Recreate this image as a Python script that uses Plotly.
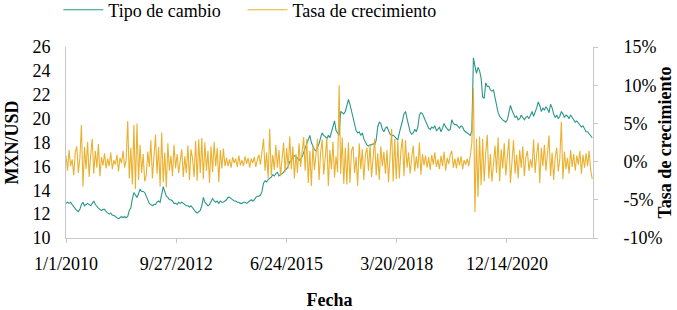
import pandas as pd
import plotly.graph_objects as go

# Biweekly observations starting 2010-01-01
start_date = "2010-01-01"

tipo_cambio = [
    # 2010
    12.9, 13.0, 12.9, 13.0, 12.8, 12.6, 12.4, 12.3, 12.2, 12.4, 12.8, 13.0, 12.7, 12.8, 12.9, 12.8, 12.7, 12.9, 13.1, 12.8, 12.6, 12.5, 12.4, 12.3, 12.4, 12.4,
    # 2011
    12.2, 12.1, 12.0, 12.1, 11.9, 11.9, 11.8, 11.7, 11.6, 11.7, 11.8, 11.7, 11.8, 11.7, 11.8, 12.3, 12.5, 13.3, 13.8, 13.6, 13.4, 13.7, 14.1, 13.9, 13.9, 13.8,
    # 2012
    13.5, 13.2, 12.9, 12.8, 12.7, 12.8, 12.8, 13.0, 13.1, 13.0, 13.6, 14.3, 13.9, 13.5, 13.4, 13.2, 13.2, 13.1, 12.9, 12.9, 12.8, 13.0, 12.9, 13.0, 12.9, 12.8,
    # 2013
    12.7, 12.7, 12.6, 12.7, 12.5, 12.3, 12.2, 12.1, 12.2, 12.3, 12.7, 13.4, 13.0, 12.8, 12.7, 12.8, 13.1, 13.3, 13.1, 13.0, 13.1, 12.9, 13.1, 13.0, 13.0, 13.1,
    # 2014
    13.2, 13.4, 13.4, 13.3, 13.2, 13.1, 13.1, 13.0, 13.0, 12.9, 12.9, 13.0, 13.0, 12.9, 13.0, 13.1, 13.2, 13.1, 13.2, 13.4, 13.5, 13.5, 13.6, 13.9, 14.6, 14.8,
    # 2015
    14.7, 14.9, 15.0, 15.1, 15.3, 15.2, 15.4, 15.5, 15.2, 15.3, 15.4, 15.5, 15.7, 15.8, 16.0, 16.4, 16.5, 16.8, 16.9, 16.8, 16.7, 16.5, 16.6, 16.8, 17.2, 17.4,
    # 2016
    18.0, 18.3, 18.6, 18.0, 17.6, 17.4, 17.3, 17.6, 17.9, 18.4, 18.8, 18.6, 18.5, 18.3, 18.6, 18.4, 18.9, 19.4, 19.8, 19.0, 18.8, 18.6, 20.6, 20.5, 20.4, 20.6,
    # 2017
    21.0, 21.6, 21.2, 20.6, 20.0, 19.5, 19.0, 18.8, 18.9, 18.6, 18.8, 18.3, 18.0, 17.8, 17.7, 17.8, 17.8, 17.9, 17.8, 18.2, 19.3, 19.7, 19.6, 19.1, 18.9, 19.2,
    # 2018
    19.3, 18.9, 18.7, 18.6, 18.6, 18.5, 18.3, 18.2, 18.8, 19.2, 19.8, 20.4, 20.6, 20.0, 19.4, 18.9, 18.7, 18.8, 19.1, 18.9, 19.3, 20.3, 20.5, 20.4, 20.1, 19.8,
    # 2019
    19.5, 19.2, 19.1, 19.3, 19.2, 19.4, 19.0, 19.1, 19.3, 18.9, 19.2, 19.6, 19.3, 19.1, 19.0, 19.1, 19.9, 19.6, 19.5, 19.5, 19.3, 19.2, 19.4, 19.3, 19.0, 18.9,
    # 2020
    18.8, 18.7, 18.6, 19.0, 25.1, 24.4, 23.8, 24.3, 24.0, 23.4, 21.8, 21.7, 23.0, 22.7, 22.7, 22.4, 22.3, 22.4, 21.7, 21.3, 20.5, 20.2, 20.0, 19.9, 19.8, 19.7,
    # 2021
    19.9, 20.6, 21.1, 20.7, 20.3, 20.1, 20.2, 19.9, 20.0, 20.3, 20.1, 19.9, 20.1, 20.2, 20.0, 20.4, 20.6, 20.2, 20.5, 20.9, 21.4, 21.1, 20.6, 20.9, 20.7, 21.0,
    # 2022
    20.8, 20.5, 21.2, 20.9, 20.4, 20.1, 20.3, 20.0, 20.2, 20.6, 20.4, 20.1, 20.3, 20.2, 20.0, 20.3, 20.1, 19.9, 19.7, 19.8, 19.6, 19.5, 19.3, 19.4, 19.1, 18.9,
    # 2023
    18.9, 18.7, 18.6, 18.4,
]

tasa_crecimiento = [
    # 2010
    0.8, -1.2, 1.5, -0.6, 0.3, -1.8, 1.2, 2.0, -1.5, 0.5, 4.8, -3.3, 1.9, -1.0, 2.6, -2.0, 0.9, 3.0, -1.6, 1.4, -0.8, 2.3, -1.9, 0.6, -0.5, 1.1,
    # 2011
    -0.9, 0.4, -0.6, 1.2, -1.0, 0.2, -0.4, 0.9, -1.3, 0.5, -0.2, 1.4, -0.8, 0.3, 5.3, -2.2, 1.8, -3.0, 4.8, -3.6, 5.0, -2.4, 2.2, -1.5, 1.0, -2.6,
    # 2012
    -1.8, 1.3, -0.7, 2.8, -2.2, 0.6, 3.5, -1.6, 1.9, -3.3, 3.8, -2.7, 1.2, -3.4, 2.4, -1.2, 0.8, -1.9, 2.2, -0.9, 1.0, -1.5, 0.4, 1.6, -2.0, 0.7,
    # 2013
    -1.5, 2.1, -2.4, 1.6, 0.4, -2.0, 2.7, -2.5, 2.9, -1.5, 3.1, -2.3, 2.5, -1.2, 1.4, -2.8, 2.0, -1.4, 2.6, -0.6, 1.8, -2.7, 1.5, -0.9, 1.7, -0.6,
    # 2014
    0.5, -0.6, 0.3, -0.8, 0.6, -0.2, 0.4, -0.7, 0.8, -0.5, 0.2, -0.6, 0.7, -0.3, 0.5, -0.8, 0.4, -0.2, 0.6, -0.7, 0.3, 0.9, -0.4, 1.8, 3.0, -1.2,
    # 2015
    1.2, -2.2, 4.3, -1.8, 0.9, -1.1, 2.2, -0.8, 1.5, -1.9, 0.6, 2.5, -1.4, 1.8, -0.9, 3.3, -1.0, 2.0, -2.2, 1.0, -1.5, 2.4, -0.7, 1.4, 3.2, -1.2,
    # 2016
    3.0, -2.8, 1.4, -3.2, 2.1, -1.1, 0.8, 3.0, -2.4, 1.2, 2.9, -1.7, 0.6, 3.1, -3.2, 1.5, -1.0, 2.6, -2.1, 0.7, -1.4, 10.0, -1.6, 3.2, -2.9, 1.8,
    # 2017
    -3.0, 2.5, -2.8, 1.4, 2.0, -1.5, 0.6, -3.2, 2.4, -1.0, 1.6, -2.4, 0.9, 1.8, -1.2, 2.2, -2.0, 0.5, 3.0, -1.8, 1.1, -2.4, 2.0, -0.6, 1.3, -1.6,
    # 2018
    1.5, -2.7, 0.8, 4.3, -2.6, 3.0, -2.3, 2.7, -2.2, 1.4, 3.0, -1.9, 2.8, -0.8, 1.2, -1.6, 0.5, 2.1, -1.3, 0.7, -0.9, 2.5, -1.7, 1.0, -0.5, 0.8,
    # 2019
    -0.8, 0.6, -1.1, 0.9, -0.4, 1.2, -0.7, 0.3, -1.0, 0.8, -0.6, 1.3, -1.2, 0.5, -0.3, 0.9, 1.4, -0.8, 0.4, -0.9, 0.6, -0.5, 0.7, -1.0, 0.2, -0.4,
    # 2020
    0.4, -0.6, 0.8, 2.5, 9.6, -6.6, 3.0, -4.6, 3.3, -3.1, 3.0, -2.6, 1.2, 3.5, -2.2, 1.0, -2.6, 0.3, 2.1, -1.5, 3.2, -2.6, 1.6, -0.9, 2.4, -1.8,
    # 2021
    1.1, 3.0, -2.8, 0.7, 2.8, -1.6, 0.9, -2.2, 1.5, -0.8, 2.0, -1.9, 0.6, 1.4, -1.2, 0.3, -0.8, 2.9, -1.5, 1.0, 2.5, -2.8, 1.8, -0.6, 2.2, -1.2,
    # 2022
    0.8, 3.4, -1.9, 1.2, -2.4, 0.6, 1.8, -1.3, 0.4, 5.2, -2.3, 1.3, -1.0, 0.5, -1.6, 1.5, -0.7, 1.0, -1.2, 0.8, -0.4, 1.4, -1.6, 0.9, -0.8, 1.1,
    # 2023
    -0.6, 1.4, -1.1, -2.3,
]

x_tick_dates = ["2010-01-01", "2012-09-27", "2015-06-24", "2018-03-20", "2020-12-14"]
x_tick_labels = ["1/1/2010", "9/27/2012", "6/24/2015", "3/20/2018", "12/14/2020"]
y_left_ticks = [10, 12, 14, 16, 18, 20, 22, 24, 26]
y_right_ticks = [-10, -5, 0, 5, 10, 15]
y_right_labels = ["-10%", "-5%", "0%", "5%", "10%", "15%"]

fechas = pd.date_range(start_date, periods=len(tipo_cambio), freq="14D")

TEAL = "#2a978b"
ORANGE = "#ebb02e"
FONT = "Liberation Serif"
AXIS = "#c8c8c8"

fig = go.Figure()
fig.add_trace(go.Scatter(x=fechas, y=tipo_cambio, name="Tipo de cambio", mode="lines",
                         line=dict(color=TEAL, width=1.1), yaxis="y", legend="legend"))
fig.add_trace(go.Scatter(x=fechas, y=tasa_crecimiento, name="Tasa de crecimiento", mode="lines",
                         line=dict(color=ORANGE, width=1.1), yaxis="y2", legend="legend2"))

legend_common = dict(orientation="h", xanchor="left", y=1.29, yanchor="top",
                     font=dict(family=FONT, size=18), itemwidth=40,
                     bgcolor="rgba(0,0,0,0)")

fig.update_layout(
    width=677, height=310,
    margin=dict(l=66, r=84, t=47, b=72, autoexpand=False),
    paper_bgcolor="white", plot_bgcolor="white",
    font=dict(family=FONT, size=18, color="black"),
    showlegend=True,
    legend=dict(x=-0.0145, **legend_common),
    legend2=dict(x=0.335, **legend_common),
    xaxis=dict(type="date", range=["2010-01-01", "2023-02-03"],
               tickvals=x_tick_dates, ticktext=x_tick_labels,
               showgrid=False, zeroline=False, showline=True, linecolor=AXIS, linewidth=1,
               ticks="outside", ticklen=4, tickcolor=AXIS, ticklabelstandoff=5,
               tickfont=dict(family=FONT, size=18), automargin=False,
               title=dict(text="<b>Fecha</b>", font=dict(family=FONT, size=18), standoff=21)),
    yaxis=dict(range=[10, 26], tickvals=y_left_ticks,
               showgrid=False, zeroline=False, showline=True, linecolor=AXIS, linewidth=1,
               ticks="", ticklabelstandoff=11, automargin=False,
               tickfont=dict(family=FONT, size=18)),
    yaxis2=dict(range=[-10, 15], tickvals=y_right_ticks, ticktext=y_right_labels,
                overlaying="y", side="right", automargin=False,
                showgrid=False, zeroline=False, showline=True, linecolor=AXIS, linewidth=1,
                ticks="outside", ticklen=4, tickcolor=AXIS, ticklabelstandoff=22,
                tickfont=dict(family=FONT, size=18)),
    annotations=[
        dict(text="<b>MXN/USD</b>", xref="paper", yref="paper", x=-0.1025, y=0.5,
             xanchor="center", yanchor="middle", textangle=-90, showarrow=False,
             font=dict(family=FONT, size=18, color="black")),
        dict(text="<b>Tasa de crecimiento</b>", xref="paper", yref="paper", x=1.1366, y=0.5,
             xanchor="center", yanchor="middle", textangle=-90, showarrow=False,
             font=dict(family=FONT, size=18, color="black")),
    ],
)

# remove the browser's default page margin so the figure sits at the window origin
fig.write_html("out.html", config={"displayModeBar": False},
               post_script="document.body.style.margin='0';")
